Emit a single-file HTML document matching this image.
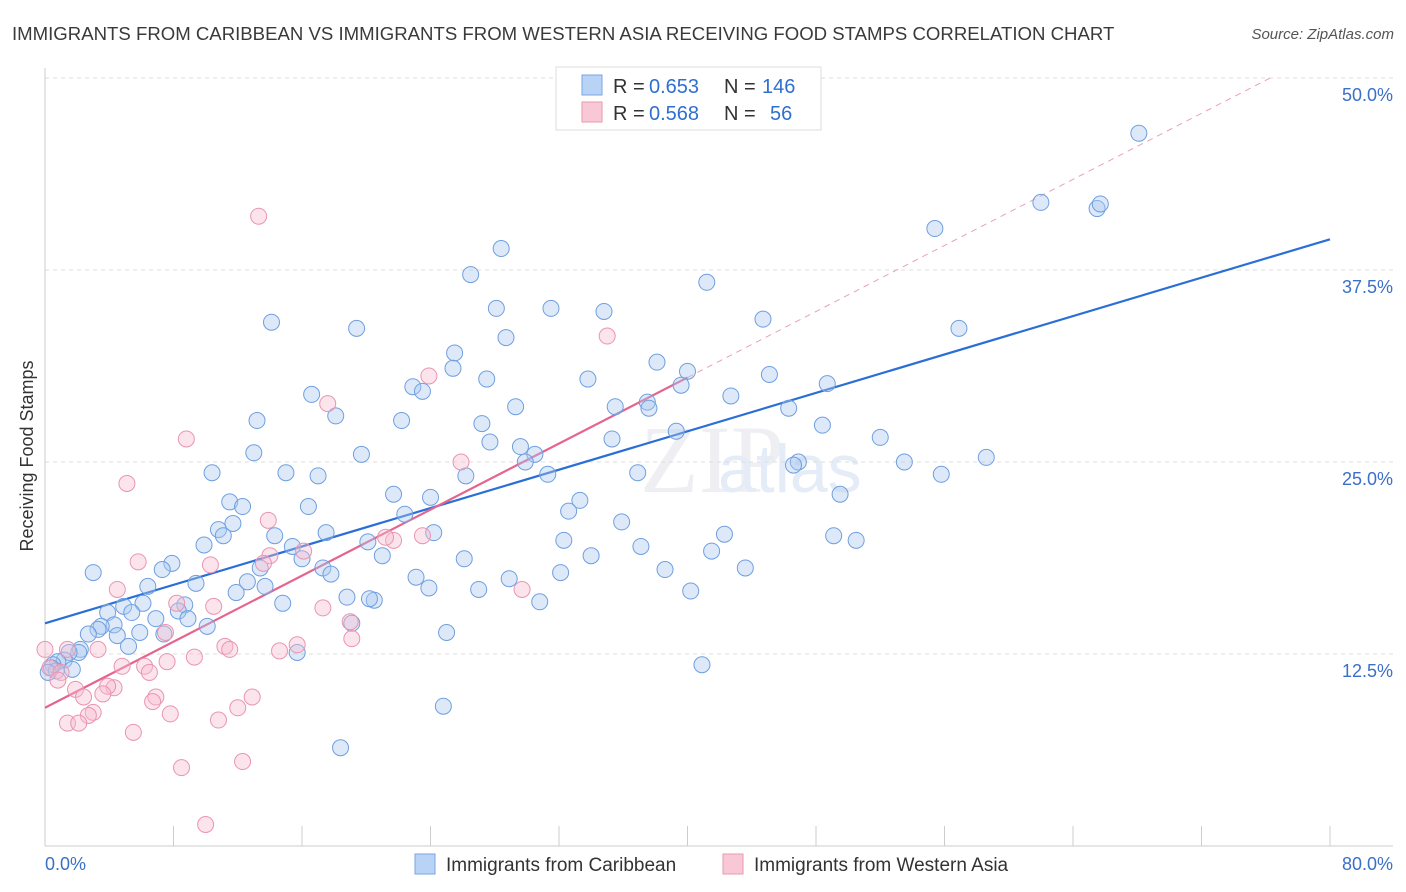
<!DOCTYPE html>
<html><head><meta charset="utf-8"><style>
body{margin:0;background:#fff;font-family:"Liberation Sans",sans-serif;}
svg{display:block}
</style></head><body>
<svg id="chart" width="1406" height="892">
<text x="12" y="40" font-size="18.6" fill="#3a3a3a">IMMIGRANTS FROM CARIBBEAN VS IMMIGRANTS FROM WESTERN ASIA RECEIVING FOOD STAMPS CORRELATION CHART</text>
<text x="1394" y="39" font-size="15" fill="#555" font-style="italic" text-anchor="end">Source: ZipAtlas.com</text>
<text transform="translate(33,456) rotate(-90)" font-size="18" fill="#333" text-anchor="middle">Receiving Food Stamps</text>
<text x="640" y="492" font-size="96" fill="#efeff3" font-family="Liberation Serif,serif">ZIP</text>
<text x="718" y="492" font-size="68" fill="#e4ecf7">atlas</text>
<g id="grid"></g><g id="axes"></g><g id="trend"></g><g id="pts"></g>
<g>
<rect x="556" y="67" width="265" height="63" fill="#fff" stroke="#ddd"/>
<rect x="582" y="75" width="20" height="20" fill="#b8d3f5" stroke="#7aa6e0"/>
<text x="613" y="93" font-size="20" fill="#333">R =</text>
<text x="649" y="93" font-size="20" fill="#2f6fd0">0.653</text>
<text x="724" y="93" font-size="20" fill="#333">N =</text>
<text x="762" y="93" font-size="20" fill="#2f6fd0">146</text>
<rect x="582" y="102" width="20" height="20" fill="#f9c8d6" stroke="#e89ab2"/>
<text x="613" y="120" font-size="20" fill="#333">R =</text>
<text x="649" y="120" font-size="20" fill="#2f6fd0">0.568</text>
<text x="724" y="120" font-size="20" fill="#333">N =</text>
<text x="770" y="120" font-size="20" fill="#2f6fd0">56</text>
</g>
<g>
<rect x="415" y="854" width="20" height="20" fill="#b8d3f5" stroke="#7aa6e0"/>
<text x="446" y="871" font-size="19" fill="#333">Immigrants from Caribbean</text>
<rect x="723" y="854" width="20" height="20" fill="#f9c8d6" stroke="#e89ab2"/>
<text x="754" y="871" font-size="19" fill="#333">Immigrants from Western Asia</text>
</g>
</svg>
<script>
const yTicks=[12.5,25,37.5,50];
const yTickLabels=["12.5%","25.0%","37.5%","50.0%"];
const xTicks=[0,8,16,24,32,40,48,56,64,72,80];
const xTickLabels=["0.0%","80.0%"];
const blueX=[68.1,62.0,65.5,65.7,55.4,28.4,26.5,41.2,28.1,31.5,34.8,44.7,14.1,19.4,56.9,28.7,25.5,25.4,38.1,45.1,40.0,27.5,33.8,22.9,23.5,48.7,39.6,16.6,42.7,29.3,35.5,37.5,37.6,46.3,18.1,22.2,13.2,27.2,48.4,39.3,27.7,35.3,52.0,29.6,30.5,13.0,19.7,29.9,58.6,46.9,46.6,53.5,10.4,15.0,17.0,31.3,36.9,26.2,55.8,21.7,24.0,49.5,11.5,12.3,16.4,33.3,22.4,32.6,11.7,35.9,10.8,11.1,14.3,17.5,24.2,42.3,49.1,50.5,32.3,9.9,15.4,20.1,37.1,41.5,21.0,34.0,26.1,16.0,7.9,7.3,3.0,13.4,17.3,38.6,43.6,17.8,32.1,23.1,28.9,12.6,9.4,13.7,6.4,23.9,27.0,40.2,11.9,18.8,20.5,20.2,30.8,8.7,14.8,6.1,4.9,3.9,8.3,5.4,8.9,6.9,4.3,3.5,3.3,10.1,19.1,5.9,4.5,2.7,7.4,25.0,5.2,2.2,2.1,1.5,15.7,1.2,0.8,0.5,0.4,1.7,0.7,0.2,40.9,24.8,18.4];
const blueY=[46.4,41.9,41.5,41.8,40.2,38.9,37.2,36.7,35.0,35.0,34.8,34.3,34.1,33.7,33.7,33.1,32.1,31.1,31.5,30.7,30.9,30.4,30.4,29.9,29.6,30.1,30.0,29.4,29.3,28.6,28.6,28.9,28.5,28.5,28.0,27.7,27.7,27.5,27.4,27.0,26.3,26.5,26.6,26.0,25.5,25.6,25.5,25.0,25.3,25.0,24.8,25.0,24.3,24.3,24.1,24.2,24.3,24.1,24.2,22.9,22.7,22.9,22.4,22.1,22.1,22.5,21.6,21.8,21.0,21.1,20.6,20.2,20.2,20.4,20.4,20.3,20.2,19.9,19.9,19.6,19.5,19.8,19.5,19.2,18.9,18.9,18.7,18.7,18.4,18.0,17.8,18.1,18.1,18.0,18.1,17.7,17.8,17.5,17.4,17.2,17.1,16.9,16.9,16.8,16.7,16.6,16.5,16.2,16.0,16.1,15.9,15.7,15.8,15.8,15.6,15.2,15.3,15.2,14.8,14.8,14.4,14.3,14.1,14.3,14.5,13.9,13.7,13.8,13.8,13.9,13.0,12.8,12.6,12.6,12.6,12.1,12.0,11.8,11.6,11.5,11.4,11.3,11.8,9.1,6.4];
const pinkX=[13.3,35.0,23.9,17.6,8.8,25.9,5.1,13.9,21.7,23.5,21.2,14.0,16.1,5.8,13.6,10.3,4.5,29.7,8.2,10.5,17.3,19.0,19.1,7.5,15.7,11.2,11.5,14.6,1.4,3.3,0.0,9.3,4.8,6.2,6.5,7.6,0.3,1.0,0.8,1.9,4.3,3.9,6.9,2.4,3.6,12.9,6.7,12.0,3.0,2.7,7.8,1.4,2.1,10.8,5.5,12.3,8.5,10.0];
const pinkY=[41.0,33.2,30.6,28.8,26.5,25.0,23.6,21.2,19.9,20.2,20.1,18.9,19.2,18.5,18.4,18.3,16.7,16.7,15.8,15.6,15.5,14.6,13.5,13.9,13.1,13.0,12.8,12.7,12.8,12.8,12.8,12.3,11.7,11.7,11.3,12.0,11.6,11.3,10.8,10.2,10.3,10.4,9.7,9.7,9.9,9.7,9.4,9.0,8.7,8.5,8.6,8.0,8.0,8.2,7.4,5.5,5.1,1.4];
const blueTrend=[14.5,39.5];
const pinkTrend=[9.0,30.5];
const NS="http://www.w3.org/2000/svg";
const X=v=>45+v*(1285/80), Y=v=>846-v*15.36;
function mk(tag,attrs,parent){const e=document.createElementNS(NS,tag);for(const k in attrs)e.setAttribute(k,attrs[k]);document.getElementById(parent).appendChild(e);return e;}
yTicks.forEach((t,i)=>{
 const g=mk('line',{x1:45,x2:1393,y1:Y(t),y2:Y(t),stroke:'#ddd','stroke-dasharray':'4,4'},'grid');
 
 
 const l=mk('text',{x:1393,y:Y(t)+23,'font-size':18,fill:'#3a70c8','text-anchor':'end'},'grid');
 l.textContent=yTickLabels[i];
 
 
});
const ya=mk('line',{x1:45,x2:45,y1:68,y2:846,stroke:'#ccc'},'axes');


const xa=mk('line',{x1:45,x2:1393,y1:846,y2:846,stroke:'#ccc'},'axes');


xTicks.forEach(t=>{
 const tk=mk('line',{x1:X(t),x2:X(t),y1:826,y2:846,stroke:'#ccc'},'axes');
 
 
});
const xl0=mk('text',{x:45,y:870,'font-size':18,fill:'#3a70c8'},'axes');
xl0.textContent=xTickLabels[0];


const xl1=mk('text',{x:1393,y:870,'font-size':18,fill:'#3a70c8','text-anchor':'end'},'axes');
xl1.textContent=xTickLabels[1];


function pt(xs,ys,fill,stroke,name){xs.forEach((x,i)=>{
 const c=mk('circle',{cx:X(x),cy:Y(ys[i]),r:8,fill:fill,'fill-opacity':0.4,stroke:stroke,'stroke-width':1},'pts');
 
 
});}
pt(blueX,blueY,'#a9c8f0','#6f9fe0','caribbean-point');
pt(pinkX,pinkY,'#f7bcd0','#e995b0','western-asia-point');
const slope=(pinkTrend[1]-pinkTrend[0])/40;
const xEnd=(50-pinkTrend[0])/slope;
const pd=mk('line',{x1:X(40),y1:Y(pinkTrend[1]),x2:X(xEnd),y2:Y(50),stroke:'#e9a0b8','stroke-dasharray':'6,5','stroke-width':1},'trend');


const bl=mk('line',{x1:X(0),y1:Y(blueTrend[0]),x2:X(80),y2:Y(blueTrend[1]),stroke:'#2a6fd6','stroke-width':2.2},'trend');


const pl=mk('line',{x1:X(0),y1:Y(pinkTrend[0]),x2:X(40),y2:Y(pinkTrend[1]),stroke:'#e4658e','stroke-width':2.2},'trend');


</script>
</body></html>
